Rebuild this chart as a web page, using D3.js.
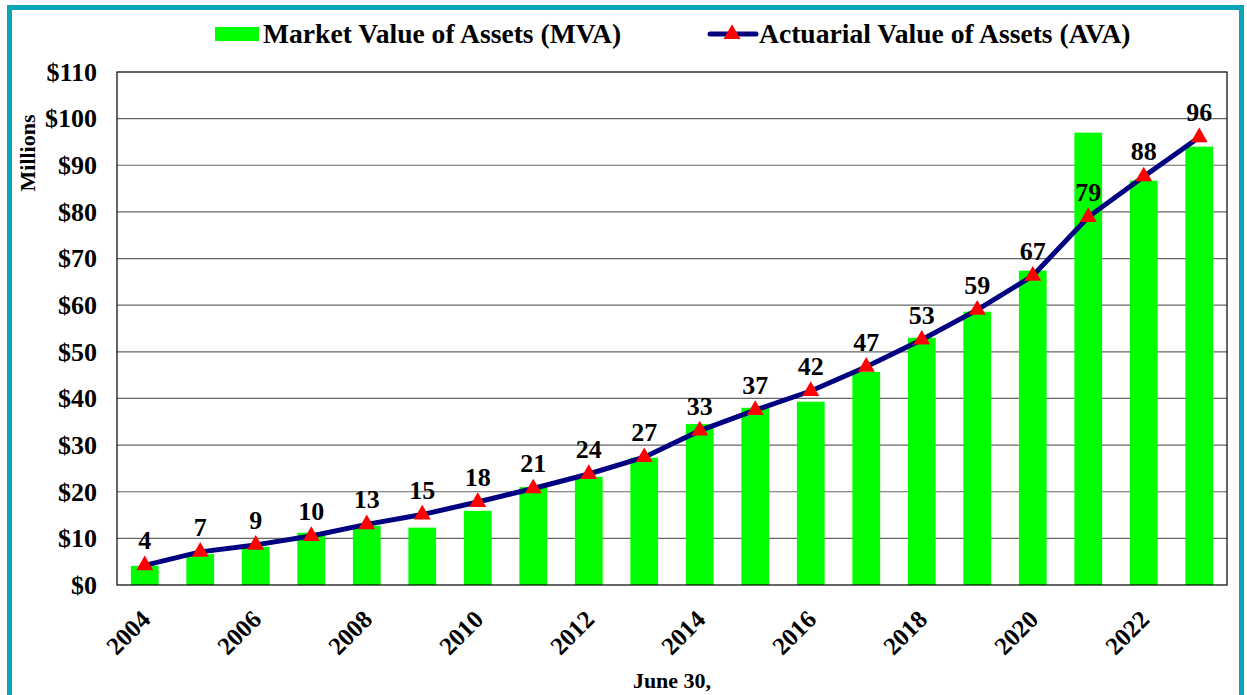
<!DOCTYPE html>
<html lang="en">
<head>
  <meta charset="UTF-8" />
  <title>MVA vs AVA</title>
  <script src="https://d3js.org/d3.v7.min.js"></script>
  <style>
    body {
      margin: 0;
      overflow: hidden;
      background: #fff;
    }
    svg {
      font-family: "Liberation Serif", "Times New Roman", serif;
      font-weight: bold;
    }
  </style>
</head>
<body>

<svg id="chart" width="1247" height="695"></svg>

<script>
const years = d3.range(2004, 2024);
const mva = [4.1, 6.6, 8.2, 11.2, 12.7, 12.3, 15.9, 21.0, 23.2, 27.3, 34.5, 38.0, 39.3, 45.7, 53.0, 58.6, 67.4, 97.0, 86.7, 94.0];
const ava = [4.2, 7.1, 8.6, 10.5, 13.0, 15.1, 17.8, 20.7, 23.8, 27.4, 33.1, 37.5, 41.6, 46.8, 52.6, 59.0, 66.3, 78.9, 87.6, 96.0];
const avaLabels = ["4", "7", "9", "10", "13", "15", "18", "21", "24", "27", "33", "37", "42", "47", "53", "59", "67", "79", "88", "96"];
const yTicks = d3.range(0, 111, 10);

const svg = d3.select("#chart");
const margin = { left: 117, right: 20, top: 72, bottom: 110 };
const width = 1247, height = 695;

// frame
svg.append("rect")
  .attr("x", 9.5).attr("y", 7.5)
  .attr("width", 1232).attr("height", 720)
  .attr("fill", "none")
  .attr("stroke", "#0ba5b6")
  .attr("stroke-width", 5);

const x = d3.scaleBand()
  .domain(years)
  .range([margin.left, width - margin.right])
  .paddingInner(0.5)
  .paddingOuter(0.25);

const y = d3.scaleLinear()
  .domain([0, 110])
  .range([height - margin.bottom, margin.top]);

// gridlines
svg.append("g")
  .selectAll("line")
  .data(yTicks.slice(1, -1))
  .join("line")
  .attr("x1", margin.left).attr("x2", width - margin.right)
  .attr("y1", d => y(d)).attr("y2", d => y(d))
  .attr("stroke", "#666")
  .attr("stroke-width", 1.2);

// bars
svg.append("g")
  .selectAll("rect")
  .data(years)
  .join("rect")
  .attr("x", d => x(d))
  .attr("width", x.bandwidth())
  .attr("y", (d, i) => y(mva[i]))
  .attr("height", (d, i) => y(0) - y(mva[i]))
  .attr("fill", "#00ff00");

// plot border
svg.append("rect")
  .attr("x", margin.left).attr("y", margin.top)
  .attr("width", width - margin.right - margin.left)
  .attr("height", y(0) - margin.top)
  .attr("fill", "none")
  .attr("stroke", "#000")
  .attr("stroke-width", 1.2);

// y axis
const yAxis = d3.axisLeft(y)
  .tickValues(yTicks)
  .tickSize(0)
  .tickPadding(20)
  .tickFormat(d => "$" + d);
svg.append("g")
  .attr("transform", `translate(${margin.left},0)`)
  .call(yAxis)
  .call(g => g.select(".domain").remove())
  .selectAll("text")
  .attr("font-family", "Liberation Serif")
  .attr("font-weight", "bold")
  .attr("font-size", 26)
  .attr("fill", "#000");

// x axis
const xAxis = d3.axisBottom(x)
  .tickValues(years.filter(d => d % 2 === 0))
  .tickSize(0)
  .tickPadding(0)
  .tickFormat(d => d);
svg.append("g")
  .attr("transform", `translate(0,${y(0)})`)
  .call(xAxis)
  .call(g => g.select(".domain").remove())
  .selectAll("text")
  .attr("font-family", "Liberation Serif")
  .attr("font-weight", "bold")
  .attr("font-size", 25)
  .attr("fill", "#000")
  .attr("text-anchor", "end")
  .attr("dy", 0)
  .attr("transform", "translate(7,36) rotate(-45)");

// AVA line
const line = d3.line()
  .x((d, i) => x(years[i]) + x.bandwidth() / 2)
  .y(d => y(d));
svg.append("path")
  .datum(ava)
  .attr("d", line)
  .attr("fill", "none")
  .attr("stroke", "#000080")
  .attr("stroke-width", 5);

const tri = d3.symbol().type(d3.symbolTriangle).size(125);
svg.append("g")
  .selectAll("path")
  .data(ava)
  .join("path")
  .attr("d", tri)
  .attr("transform", (d, i) => `translate(${x(years[i]) + x.bandwidth() / 2},${y(d)})`)
  .attr("fill", "#ff0000");

svg.append("g")
  .selectAll("text")
  .data(ava)
  .join("text")
  .attr("x", (d, i) => x(years[i]) + x.bandwidth() / 2)
  .attr("y", d => y(d) - 16)
  .attr("text-anchor", "middle")
  .attr("font-size", 26)
  .text((d, i) => avaLabels[i]);

// axis titles
svg.append("text")
  .attr("transform", "translate(35,153) rotate(-90)")
  .attr("text-anchor", "middle")
  .attr("font-size", 22)
  .text("Millions");

svg.append("text")
  .attr("x", 672).attr("y", 688)
  .attr("text-anchor", "middle")
  .attr("font-size", 22)
  .text("June 30,");

// legend
svg.append("rect")
  .attr("x", 215).attr("y", 27)
  .attr("width", 44).attr("height", 14)
  .attr("fill", "#00ff00");
svg.append("text")
  .attr("x", 263).attr("y", 43)
  .attr("font-size", 27.6)
  .text("Market Value of Assets (MVA)");

svg.append("line")
  .attr("x1", 710).attr("x2", 756)
  .attr("y1", 34).attr("y2", 34)
  .attr("stroke", "#000080")
  .attr("stroke-width", 5)
  .attr("stroke-linecap", "round");
svg.append("path")
  .attr("d", tri)
  .attr("transform", "translate(732,34)")
  .attr("fill", "#ff0000");
svg.append("text")
  .attr("x", 759).attr("y", 43)
  .attr("font-size", 27.6)
  .text("Actuarial Value of Assets (AVA)");
</script>

</body>
</html>
